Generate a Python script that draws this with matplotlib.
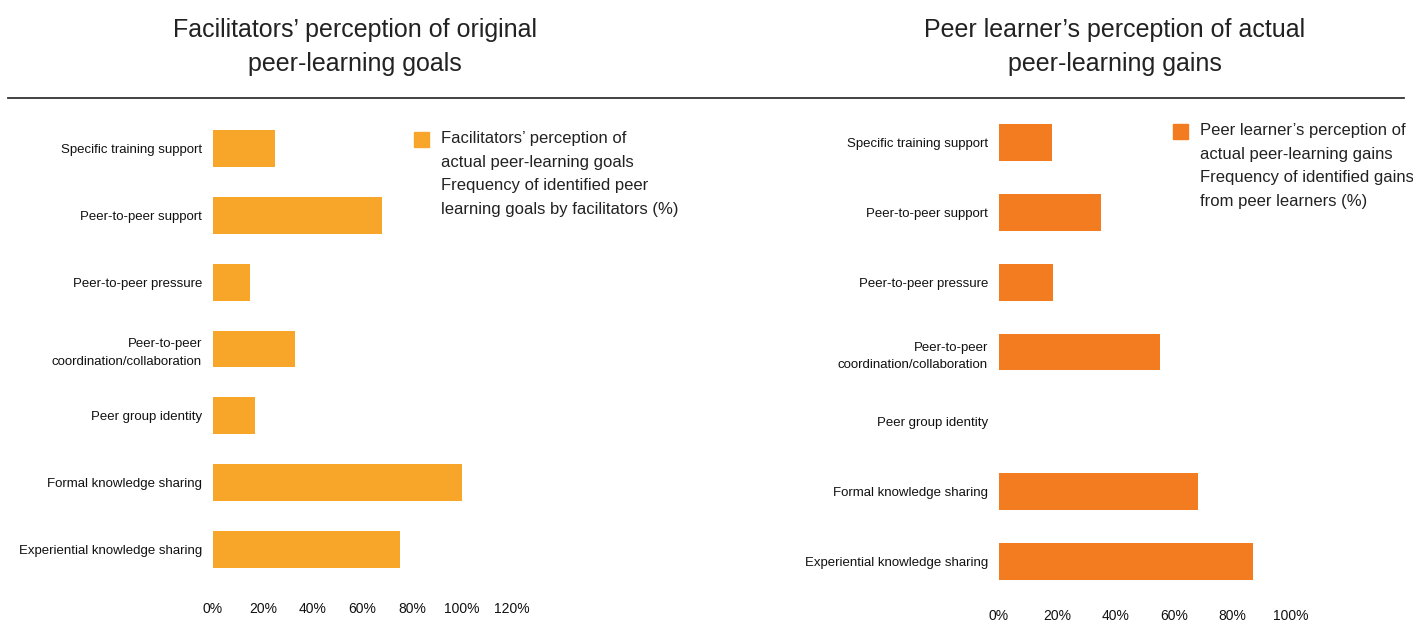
import matplotlib.pyplot as plt
from matplotlib.lines import Line2D

plt.rcParams['font.family'] = ['Liberation Sans', 'DejaVu Sans']

categories = ["Specific training support", "Peer-to-peer support", "Peer-to-peer pressure",
              "Peer-to-peer\ncoordination/collaboration", "Peer group identity",
              "Formal knowledge sharing", "Experiential knowledge sharing"]
facilitators = [25, 68, 15, 33, 17, 100, 75]
learners = [18, 35, 18.5, 55, 0, 68, 87]
left_ticks = [0, 20, 40, 60, 80, 100, 120]
right_ticks = [0, 20, 40, 60, 80, 100]

W, H = 1413, 635
fig = plt.figure(figsize=(W / 100, H / 100), dpi=100)


def box(x0, y0, x1, y1):
    return [x0 / W, 1 - y1 / H, (x1 - x0) / W, (y1 - y0) / H]


def panel(rect, vals, ticks, color, bh, xpad, legend, leg_xy):
    ax = fig.add_axes(rect)
    ax.barh(range(len(categories)), vals, height=bh, color=color)
    ax.set_ylim(len(categories) - 0.5, -0.5)
    ax.set_xlim(0, ticks[-1])
    ax.set_yticks(range(len(categories)))
    ax.set_yticklabels(categories, fontsize=9.5, linespacing=1.6, color='#111111')
    ax.set_xticks(ticks)
    ax.set_xticklabels([f"{t}%" for t in ticks], fontsize=10, color='#111111')
    ax.tick_params(length=0)
    ax.tick_params(axis='x', pad=xpad)
    ax.tick_params(axis='y', pad=8)
    for s in ax.spines.values():
        s.set_visible(False)
    lx, ly = leg_xy
    fig.patches.append(plt.Rectangle((lx / W, 1 - (ly + 15) / H), 15 / W, 15 / H,
                                     color=color, transform=fig.transFigure))
    fig.text((lx + 27) / W, 1 - (ly - 1) / H, legend, fontsize=12, va='top',
             ha='left', linespacing=1.72, color='#222222')
    return ax


panel(box(213, 115, 512, 583), facilitators, left_ticks, '#F8A629', 0.55, 14,
      "Facilitators\u2019 perception of\nactual peer-learning goals\n"
      "Frequency of identified peer\nlearning goals by facilitators (%)", (414, 132))
panel(box(999, 108, 1291, 596), learners, right_ticks, '#F37B20', 0.53, 9,
      "Peer learner\u2019s perception of\nactual peer-learning gains\n"
      "Frequency of identified gains\nfrom peer learners (%)", (1173, 124))

fig.text(355 / W, 1 - 47 / H, "Facilitators\u2019 perception of original\npeer-learning goals",
         ha='center', va='center', fontsize=18, linespacing=1.55, color='#222222')
fig.text(1115 / W, 1 - 47 / H, "Peer learner\u2019s perception of actual\npeer-learning gains",
         ha='center', va='center', fontsize=18, linespacing=1.55, color='#222222')
fig.lines.append(Line2D([8 / W, 1404 / W], [1 - 98 / H, 1 - 98 / H], color='#333333',
                        lw=1.3, transform=fig.transFigure))

fig.savefig("out.png", dpi=100)
